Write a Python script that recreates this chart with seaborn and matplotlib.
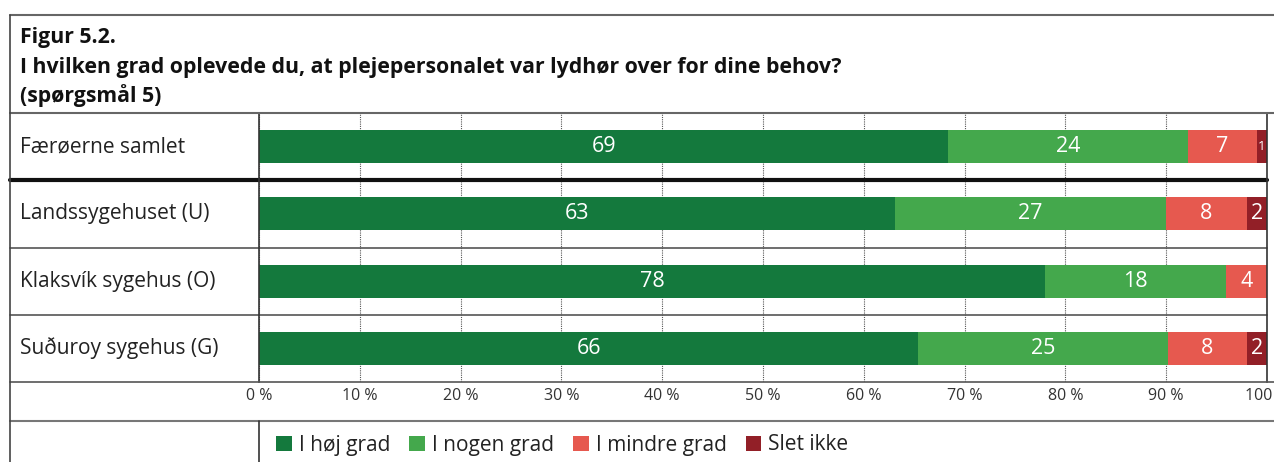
import matplotlib
matplotlib.use("Agg")
import matplotlib.pyplot as plt
import matplotlib.patches as mpatches
from matplotlib.lines import Line2D
import seaborn as sns
import pandas as pd
import numpy as np

# ---- data ----
title_lines = ["Figur 5.2.",
               "I hvilken grad oplevede du, at plejepersonalet var lydhør over for dine behov?",
               "(spørgsmål 5)"]
categories = ["Færøerne samlet", "Landssygehuset (U)", "Klaksvík sygehus (O)", "Suðuroy sygehus (G)"]
series = ["I høj grad", "I nogen grad", "I mindre grad", "Slet ikke"]
hoj = [68.4, 63.1, 78.0, 65.4]
nogen = [23.8, 26.9, 17.9, 24.8]
mindre = [6.8, 8.0, 4.1, 7.8]
slet = [1.0, 2.0, 0.0, 2.0]
labels_hoj = ["69", "63", "78", "66"]
labels_nogen = ["24", "27", "18", "25"]
labels_mindre = ["7", "8", "4", "8"]
labels_slet = ["1", "2", "", "2"]
xticks = [0, 10, 20, 30, 40, 50, 60, 70, 80, 90, 100]
xticklabels = ["0 %", "10 %", "20 %", "30 %", "40 %", "50 %", "60 %", "70 %", "80 %", "90 %", "100 %"]
colors = ["#14793d", "#44a84c", "#e6594f", "#921f27"]

sns.set_theme(style="white")
plt.rcParams["font.family"] = ["Open Sans", "DejaVu Sans"]

W, H = 1274, 462
fig = plt.figure(figsize=(W / 100, H / 100), dpi=100)

def fx(px):
    return px / W

def fy(py):
    return 1 - py / H

x0, x1 = 259, 1267
y0, y1 = 113, 382
ax = fig.add_axes([fx(x0), fy(y1), fx(x1) - fx(x0), fy(y0) - fy(y1)])

vals = [hoj, nogen, mindre, slet]
labs = [labels_hoj, labels_nogen, labels_mindre, labels_slet]
cum = np.cumsum(np.array(vals), axis=0)
df = pd.DataFrame({"cat": categories})
for i, s in enumerate(series):
    df[s] = cum[i]

# draw cumulative bars from right-most segment to left
for i in reversed(range(len(series))):
    sns.barplot(data=df, x=series[i], y="cat", order=categories, color=colors[i],
                orient="h", width=0.49, ax=ax, saturation=1, linewidth=0)

# value labels
for i in range(len(series)):
    for j, c in enumerate(categories):
        v = vals[i][j]
        if v <= 0 or labs[i][j] == "":
            continue
        start = cum[i][j] - v
        fs = 15.5 if v >= 2 else 9.5
        ax.text(start + v / 2, j, labs[i][j], ha="center", va="center",
                color="white", fontsize=fs)

ax.set_xlim(0, 100)
ax.set_ylim(3.5, -0.5)
ax.set_xlabel("")
ax.set_ylabel("")
ax.set_yticks([])
ax.set_xticks(xticks)
ax.set_xticklabels(xticklabels, fontsize=11.5, color="#333333")
ax.tick_params(axis="x", length=0, pad=4)
ax.set_axisbelow(True)
ax.xaxis.grid(True, linestyle=(0, (1, 1)), color="#555555", linewidth=0.8)
for sp in ["top", "bottom"]:
    ax.spines[sp].set_visible(False)
for sp in ["left", "right"]:
    ax.spines[sp].set_visible(True)
    ax.spines[sp].set_color("#333333")
    ax.spines[sp].set_linewidth(1.2)

# row separators
xmin_ext = (10 - x0) / (x1 - x0)
ax.axhline(0.5, xmin=xmin_ext, xmax=1, color="#111111", linewidth=3, clip_on=False)
for yy in [1.5, 2.5]:
    ax.axhline(yy, xmin=xmin_ext, xmax=1, color="#555555", linewidth=1.2, clip_on=False)

# category labels in left column
blend = matplotlib.transforms.blended_transform_factory(fig.transFigure, ax.transData)
for j, c in enumerate(categories):
    ax.text(fx(20), j, c, transform=blend, ha="left", va="center", fontsize=15, color="#222222")

# frame lines
def hline(py, xa, xb, color="#555555", lw=1.2):
    fig.add_artist(Line2D([fx(xa), fx(xb)], [fy(py), fy(py)], transform=fig.transFigure,
                          color=color, linewidth=lw))

def vline(px, ya, yb, color="#444444", lw=1.2):
    fig.add_artist(Line2D([fx(px), fx(px)], [fy(ya), fy(yb)], transform=fig.transFigure,
                          color=color, linewidth=lw))

hline(15, 10, W, color="#666666", lw=1.5)
hline(113, 10, W, color="#666666", lw=1.5)
hline(382, 10, W, color="#555555", lw=1.2)
hline(421, 10, W, color="#777777", lw=1.5)
vline(10, 15, H, color="#444444", lw=1.2)
vline(x0, 421, H, color="#333333", lw=1.2)

# title
for k, t in enumerate(title_lines):
    fig.text(fx(20), fy(38 + k * 29), t, ha="left", va="center", fontsize=15.3,
             fontweight="bold", color="#111111")

# legend
handles = [mpatches.Patch(facecolor=colors[i], edgecolor="none", label=series[i]) for i in range(len(series))]
fig.legend(handles=handles, loc="center left", bbox_to_anchor=(fx(268), fy(445)), ncol=4,
           frameon=False, fontsize=15, handlelength=0.75, handleheight=0.75,
           handletextpad=0.35, columnspacing=0.9, borderaxespad=0, labelcolor="#222222")

fig.savefig("out.png", dpi=100)
